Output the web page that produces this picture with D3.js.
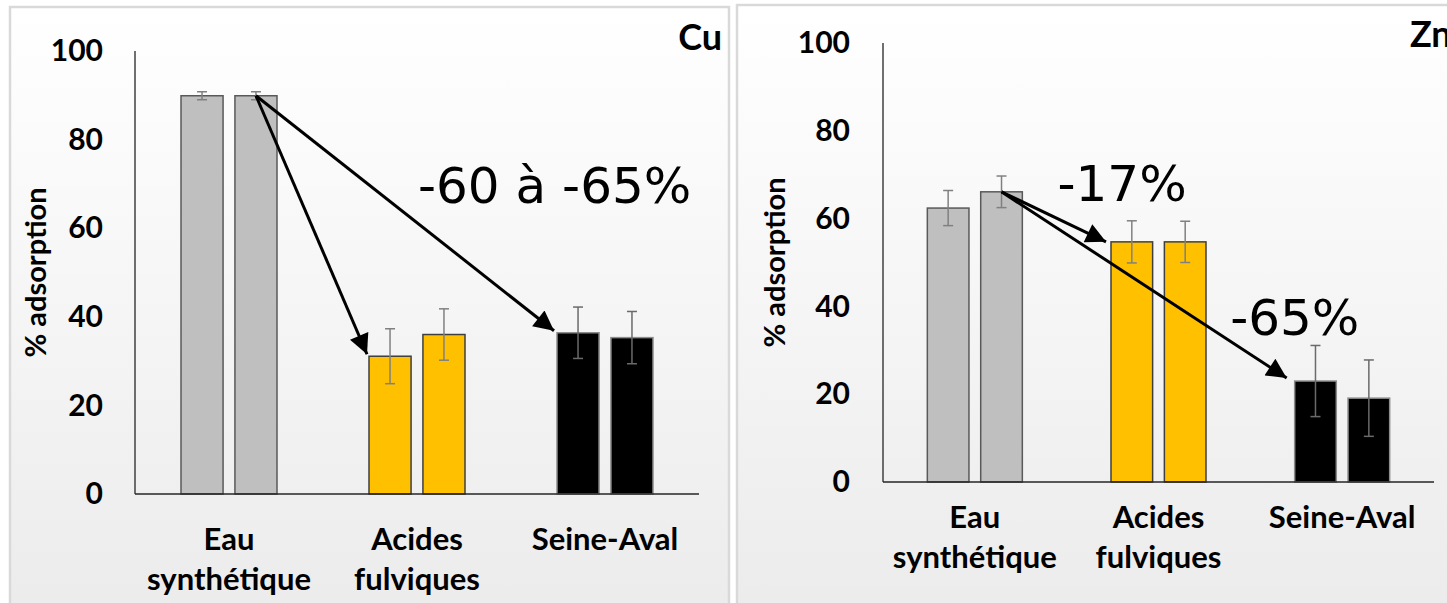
<!DOCTYPE html>
<html>
<head>
<meta charset="utf-8">
<script src="https://cdn.jsdelivr.net/npm/d3@7"></script>
<style>
  html, body { margin: 0; padding: 0; background: #ffffff; }
  svg { display: block; }
</style>
</head>
<body>
<svg id="chart" width="1447" height="603"></svg>
<script>
// ---- data ----
const categories = ["Eau synthétique", "Acides fulviques", "Seine-Aval"];
const categoryLines = [["Eau", "synthétique"], ["Acides", "fulviques"], ["Seine-Aval"]];
const replicates = ["r1", "r2"];
const yTicks = [0, 20, 40, 60, 80, 100];

// % adsorption, two replicates per water type
const cuValues = [[89.9, 89.9], [31.1, 36.0], [36.4, 35.3]];
const cuErrors = [[0.9, 0.9], [6.2, 5.8], [5.8, 5.9]];
const znValues = [[62.4, 66.1], [54.7, 54.7], [23.0, 19.1]];
const znErrors = [[4.0, 3.6], [4.8, 4.7], [8.1, 8.7]];

// annotation labels, anchored at [category offset, value]
const cuNotes = [{ text: "-60 à -65%", cat: 1, value: 65.8 }];
const znNotes = [{ text: "-17%", cat: 0.45, value: 63.9 }, { text: "-65%", cat: 1.39, value: 33.4 }];

const categoryFill = ["#bfbfbf", "#ffc000", "#000000"];
const categoryStroke = ["#595959", "#3f3f3f", "#8c8c8c"];
const errorColor = ["#808080", "#808080", "#6a6a6a"];

const svg = d3.select("#chart");
const defs = svg.append("defs");

const grad = defs.append("linearGradient")
  .attr("id", "panelBg").attr("x1", 0).attr("y1", 0).attr("x2", 0).attr("y2", 1);
grad.append("stop").attr("offset", "0%").attr("stop-color", "#ffffff");
grad.append("stop").attr("offset", "100%").attr("stop-color", "#ebebeb");

defs.append("marker")
  .attr("id", "arrowHead")
  .attr("viewBox", "0 0 10 10")
  .attr("refX", 10).attr("refY", 5)
  .attr("markerUnits", "userSpaceOnUse")
  .attr("markerWidth", 22).attr("markerHeight", 20)
  .attr("orient", "auto")
  .append("path").attr("d", "M0,0 L10,5 L0,10 Z").attr("fill", "#000");

const labelFont = "Lato, 'Open Sans', sans-serif";

function drawPanel(cfg) {
  const g = svg.append("g");

  // panel frame
  g.append("rect")
    .attr("x", cfg.frame.x).attr("y", cfg.frame.y)
    .attr("width", cfg.frame.w).attr("height", cfg.frame.h)
    .attr("fill", "url(#panelBg)")
    .attr("stroke", "#d9d9d9").attr("stroke-width", 2.5);

  const x = d3.scaleBand().domain(categories).range([cfg.left, cfg.right]);
  const xSub = d3.scaleBand().domain(replicates)
    .range([-cfg.groupHalf, cfg.groupHalf]).paddingInner(0.22);
  const y = d3.scaleLinear().domain([0, 100]).range([cfg.bottom, cfg.top]);

  const center = i => x(categories[i]) + x.bandwidth() / 2;
  const barX = (i, j) => center(i) + xSub(replicates[j]);

  // y tick labels (no tick marks)
  const yAxis = d3.axisLeft(y).tickValues(yTicks).tickSize(0).tickPadding(cfg.tickPad);
  const ya = g.append("g").attr("transform", `translate(${cfg.left},0)`).call(yAxis);
  ya.select(".domain").remove();
  ya.selectAll("text")
    .attr("font-family", labelFont).attr("font-weight", 700)
    .attr("font-size", 30).attr("fill", "#000");

  // vertical axis line
  g.append("line")
    .attr("x1", cfg.left).attr("x2", cfg.left)
    .attr("y1", y(100)).attr("y2", y(0))
    .attr("stroke", "#404040").attr("stroke-width", 1.5);

  // bars
  const rows = [];
  cfg.values.forEach((pair, i) => pair.forEach((v, j) => rows.push({ i, j, v, e: cfg.errors[i][j] })));

  g.selectAll("rect.bar").data(rows).join("rect")
    .attr("class", "bar")
    .attr("x", d => barX(d.i, d.j))
    .attr("width", xSub.bandwidth())
    .attr("y", d => y(d.v))
    .attr("height", d => y(0) - y(d.v))
    .attr("fill", d => categoryFill[d.i])
    .attr("stroke", d => categoryStroke[d.i])
    .attr("stroke-width", 1.5);

  // error bars
  const eb = g.selectAll("g.err").data(rows).join("g").attr("class", "err")
    .attr("stroke", d => errorColor[d.i]).attr("stroke-width", 1.5).attr("fill", "none");
  eb.append("line")
    .attr("x1", d => barX(d.i, d.j) + xSub.bandwidth() / 2)
    .attr("x2", d => barX(d.i, d.j) + xSub.bandwidth() / 2)
    .attr("y1", d => y(d.v + d.e)).attr("y2", d => y(d.v - d.e));
  [1, -1].forEach(s => {
    eb.append("line")
      .attr("x1", d => barX(d.i, d.j) + xSub.bandwidth() / 2 - 5)
      .attr("x2", d => barX(d.i, d.j) + xSub.bandwidth() / 2 + 5)
      .attr("y1", d => y(d.v + s * d.e)).attr("y2", d => y(d.v + s * d.e));
  });

  // baseline
  g.append("line")
    .attr("x1", cfg.left).attr("x2", cfg.right)
    .attr("y1", y(0)).attr("y2", y(0))
    .attr("stroke", "#262626").attr("stroke-width", 1.5);

  // category labels
  categoryLines.forEach((lines, i) => {
    const t = g.append("text")
      .attr("x", center(i)).attr("y", y(0) + cfg.labelDrop)
      .attr("text-anchor", "middle")
      .attr("font-family", labelFont).attr("font-weight", 700)
      .attr("font-size", 31).attr("fill", "#000");
    lines.forEach((ln, k) => {
      t.append("tspan").attr("x", center(i)).attr("dy", k === 0 ? 0 : 40).text(ln);
    });
  });

  // y title
  g.append("text")
    .attr("transform", `translate(${cfg.titleX},${(y(0) + y(100)) / 2}) rotate(-90)`)
    .attr("text-anchor", "middle")
    .attr("font-family", labelFont).attr("font-weight", 700)
    .attr("font-size", 29).attr("fill", "#000")
    .text("% adsorption");

  // metal label
  g.append("text")
    .attr("x", cfg.metalX).attr("y", cfg.metalY)
    .attr("text-anchor", cfg.metalAnchor)
    .attr("font-family", labelFont).attr("font-weight", 700)
    .attr("font-size", 36).attr("fill", "#000")
    .text(cfg.metal);

  // arrows from the second reference replicate to the first replicate of each other water
  const sx = barX(0, 1) + xSub.bandwidth() / 2;
  const sy = y(cfg.values[0][1]);
  [1, 2].forEach(i => {
    g.append("line")
      .attr("x1", sx).attr("y1", sy)
      .attr("x2", barX(i, 0) - cfg.arrowGap[i - 1][0])
      .attr("y2", y(cfg.values[i][0]) - cfg.arrowGap[i - 1][1])
      .attr("stroke", "#000").attr("stroke-width", 3)
      .attr("marker-end", "url(#arrowHead)");
  });

  // percentage annotations
  cfg.notes.forEach(n => {
    g.append("text")
      .attr("x", center(0) + n.cat * x.step() + cfg.noteShift)
      .attr("y", y(n.value))
      .attr("font-family", "'DejaVu Sans', Verdana, sans-serif")
      .attr("font-size", 50).attr("fill", "#000")
      .text(n.text);
  });
}

drawPanel({
  frame: { x: 10, y: 7, w: 719, h: 620 },
  left: 135, right: 699, top: 51, bottom: 494,
  groupHalf: 48, tickPad: 32, labelDrop: 56, titleX: 46,
  metal: "Cu", metalX: 722, metalY: 50, metalAnchor: "end",
  values: cuValues, errors: cuErrors, notes: cuNotes, noteShift: 1,
  arrowGap: [[2, 2], [3, 2]]
});

drawPanel({
  frame: { x: 737, y: 5, w: 740, h: 620 },
  left: 883, right: 1434, top: 43, bottom: 482,
  groupHalf: 47.5, tickPad: 33, labelDrop: 46, titleX: 785,
  metal: "Zn", metalX: 1410, metalY: 47, metalAnchor: "start",
  values: znValues, errors: znErrors, notes: znNotes, noteShift: 0,
  arrowGap: [[5, 0], [8, 3]]
});
</script>
</body>
</html>
